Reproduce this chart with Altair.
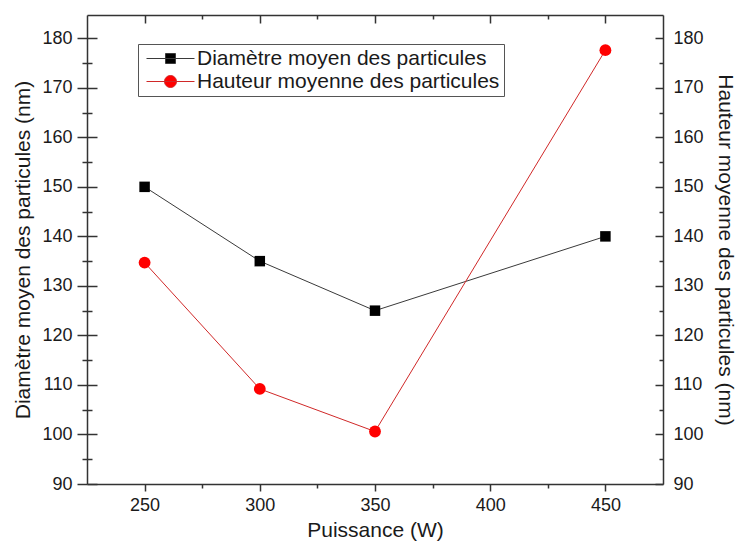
import altair as alt
import pandas as pd

# ---- data ----
puissance = [250, 300, 350, 450]
diametre = [150, 135, 125, 140]
hauteur = [134.7, 109.2, 100.6, 177.6]
series_names = ["Diamètre moyen des particules", "Hauteur moyenne des particules"]

x_major = [250, 300, 350, 400, 450]
x_minor = [275, 325, 375, 425]
y_major = [90, 100, 110, 120, 130, 140, 150, 160, 170, 180]
y_minor = [95, 105, 115, 125, 135, 145, 155, 165, 175]

x_title = "Puissance (W)"
yl_title = "Diamètre moyen des particules (nm)"
yr_title = "Hauteur moyenne des particules (nm)"

W, H = 576, 469
xdom = [225, 475]
ydom = [90, 184.7]

FONT = "Liberation Sans"
AX = "#333333"
TXT = "#1a1a1a"

df_d = pd.DataFrame({"p": puissance, "v": diametre, "s": series_names[0]})
df_h = pd.DataFrame({"p": puissance, "v": hauteur, "s": series_names[1]})
df_all = pd.concat([df_d, df_h], ignore_index=True)

xs = alt.Scale(domain=xdom, nice=False, zero=False)
ys = alt.Scale(domain=ydom, nice=False, zero=False)


def axis(**kw):
    base = dict(
        grid=False, domainColor=AX, tickColor=AX, domainWidth=1.5, tickWidth=1.5,
        labelFont=FONT, labelFontSize=18, labelColor=TXT, labelFlush=False,
        labelOverlap=False, titleFont=FONT, titleFontSize=21, titleColor=TXT,
        titleFontWeight="normal", title=None,
    )
    base.update(kw)
    return alt.Axis(**base)


def bare(orient, values, size, offset=0, domain=False):
    kw = dict(orient=orient, values=values, tickSize=size, labels=False, domain=domain)
    if offset:
        kw["offset"] = offset
    return axis(**kw)


X = lambda ax: alt.X("p:Q", scale=xs, axis=ax)
Y = lambda ax: alt.Y("v:Q", scale=ys, axis=ax)

# layer 1: diametre line, bottom axis with labels, left axis with labels
l1 = alt.Chart(df_d).mark_line(color="#3a3a3a", strokeWidth=1).encode(
    x=X(axis(orient="bottom", values=x_major, tickSize=7, labelPadding=5,
             title=x_title, titlePadding=5)),
    y=Y(axis(orient="left", values=y_major, tickSize=10, labelPadding=5,
             title=yl_title, titlePadding=8)),
)
# layer 2: diametre points, bottom minor ticks, left minor outward
l2 = alt.Chart(df_d).mark_point(shape="square", filled=True, color="black",
                                size=110, opacity=1).encode(
    x=X(bare("bottom", x_minor, 4)),
    y=Y(bare("left", y_minor, 5)),
)
# layer 3: hauteur line, top major inward ticks (frame), right labels
l3 = alt.Chart(df_h).mark_line(color="#d02828", strokeWidth=1).encode(
    x=X(bare("bottom", x_major, 8, offset=-H, domain=True)),
    y=Y(axis(orient="right", values=y_major, ticks=False, labelPadding=10,
             title=yr_title, titlePadding=11)),
)
# layer 4: hauteur points, top minor inward, right major inward
l4 = alt.Chart(df_h).mark_point(shape="circle", filled=True, color="#ff0000",
                                size=140, opacity=1).encode(
    x=X(bare("bottom", x_minor, 4, offset=-H)),
    y=Y(bare("left", y_major, 8, offset=-W)),
)

path_sq = "M-1,0H7M2.17,-0.83H3.83V0.83H2.17Z"
path_ci = "M-1,0H7M2,0A1,1,0,1,0,4,0A1,1,0,1,0,2,0Z"
leg = alt.Legend(
    title=None, orient="none", legendX=51, legendY=29, direction="vertical",
    symbolSize=144, symbolOpacity=1, symbolStrokeWidth=1, labelOffset=34,
    labelFont=FONT, labelFontSize=21, labelColor=TXT, labelLimit=500, rowPadding=1,
    padding=4, strokeColor="#555555", fillColor="white",
)
l5 = alt.Chart(df_all).mark_point(filled=True, opacity=0).encode(
    x=alt.X("p:Q", scale=xs, axis=None),
    y=Y(bare("left", y_minor, 4, offset=-W)),
    color=alt.Color("s:N", scale=alt.Scale(domain=series_names, range=["#000000", "#ff0000"]), legend=leg),
    stroke=alt.Stroke("s:N", scale=alt.Scale(domain=series_names, range=["#3a3a3a", "#d02828"]), legend=leg),
    shape=alt.Shape("s:N", scale=alt.Scale(domain=series_names, range=[path_sq, path_ci]), legend=leg),
)
# layers 6/7: left axis inward ticks (crossing ticks)
l6 = alt.Chart(df_d).mark_point(opacity=0).encode(
    x=alt.X("p:Q", scale=xs, axis=None),
    y=Y(bare("right", y_major, 10, offset=-W)),
)
l7 = alt.Chart(df_d).mark_point(opacity=0).encode(
    x=alt.X("p:Q", scale=xs, axis=None),
    y=Y(bare("right", y_minor, 5, offset=-W)),
)

chart = (
    alt.layer(l1, l2, l3, l4, l5, l6, l7)
    .resolve_scale(x="shared", y="shared")
    .resolve_axis(x="independent", y="independent")
    .properties(
        width=W, height=H, autosize=alt.AutoSizeParams(type="none"),
        padding={"left": 79, "top": 7, "right": 76, "bottom": 57},
        background="white",
    )
    .configure_view(stroke=None)
)

chart.save("out.html", embed_options={"renderer": "svg", "actions": False})
